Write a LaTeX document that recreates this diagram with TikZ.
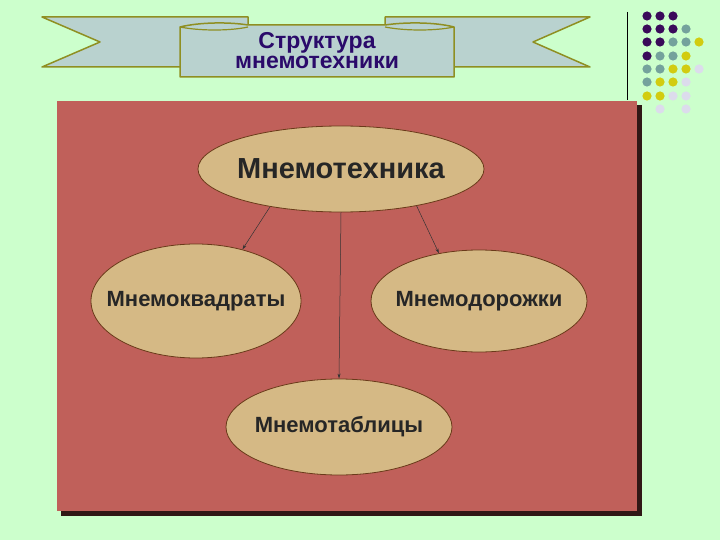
\documentclass[tikz,border=0pt]{standalone}
\usepackage{fontspec}
\setmainfont{Liberation Sans}
\usetikzlibrary{arrows.meta,shapes.geometric}
\definecolor{bg}{HTML}{CCFFCC}
\definecolor{board}{HTML}{C0605A}
\definecolor{ell}{HTML}{D5B985}
\definecolor{ellline}{HTML}{6A3A1A}
\definecolor{rib}{HTML}{B9D2CF}
\definecolor{ribline}{HTML}{8F8F22}
\definecolor{ttl}{HTML}{2A0A6A}
\definecolor{dP}{HTML}{3A0A5A}
\definecolor{dT}{HTML}{74A29C}
\definecolor{dY}{HTML}{D2CC10}
\definecolor{dL}{HTML}{DCDCEC}
\tikzset{
 oval/.style={ellipse, draw=ellline, fill=ell, line width=0.8pt, inner sep=0pt},
 lbl/.style={text=black!85, inner sep=0pt},
 ttlstyle/.style={text=ttl, inner sep=0pt, font=\fontsize{23}{23}\selectfont\bfseries},
 conn/.style={draw=black!80, line width=0.5pt, -{Stealth[length=5pt,width=3pt]}},
 ribbon/.style={fill=rib, draw=ribline, line width=1.5pt, line join=round}
}
\begin{document}
\begin{tikzpicture}[x=1pt,y=-1pt]
\fill[bg] (0,0) rectangle (720,540);
\useasboundingbox (0,0) rectangle (720,540);
% ribbon
\draw[ribbon] (42,17) -- (248,17) -- (248,62) -- (180,67) -- (42,67) -- (100,42) -- cycle;
\draw[ribbon] (590,17) -- (385,17) -- (385,62) -- (454,67) -- (590,67) -- (533,42) -- cycle;
\draw[ribbon] (180,27) .. controls (200,22) and (230,22) .. (248,25) -- (385,25) .. controls (405,22) and (435,22) .. (454,27) -- (454,77) -- (180,77) -- cycle;
\draw[ribline, line width=1.2pt] (180,27) .. controls (200,31) and (230,31) .. (248,27);
\draw[ribline, line width=1.2pt] (385,27) .. controls (405,31) and (435,31) .. (454,27);
\node[ttlstyle, anchor=base] (title1) at (317,49) {Структура};
\node[ttlstyle, anchor=base] (title2) at (317,69) {мнемотехники};
% dots
\draw[black, line width=1pt] (627,12) -- (627,100);
\foreach \c/\x/\y in {dP/647/16,dP/660/16,dP/673/16,
 dP/647/29,dP/660/29,dP/673/29,dT/686/29,
 dP/647/42,dP/660/42,dT/673/42,dT/686/42,dY/699/42,
 dP/647/56,dT/660/56,dT/673/56,dY/686/56,
 dT/647/69,dT/660/69,dY/673/69,dY/686/69,dL/699/69,
 dT/647/82,dY/660/82,dY/673/82,dL/686/82,
 dY/647/96,dY/660/96,dL/673/96,dL/686/96,
 dL/660/109,dL/686/109}
 \fill[\c] (\x,\y) circle (4.6);
% board with shadow
\fill[black!75!board] (61,105) rectangle (642,516);
\fill[board] (57,101) rectangle (637,511);
% nodes
\node[oval, minimum width=286, minimum height=86] (m) at (341,169) {};
\node[oval, minimum width=210, minimum height=114] (k) at (196,301) {};
\node[oval, minimum width=216, minimum height=102] (d) at (479,301) {};
\node[oval, minimum width=226, minimum height=96] (t) at (339,427) {};
\node[lbl] (ml) at (m) {\fontsize{29}{29}\selectfont\bfseries Мнемотехника};
\node[lbl] (kl) at (k) {\fontsize{22}{22}\selectfont\bfseries Мнемоквадраты};
\node[lbl] (dl) at (d) {\fontsize{22}{22}\selectfont\bfseries Мнемодорожки};
\node[lbl] (tl) at (t) {\fontsize{22}{22}\selectfont\bfseries Мнемотаблицы};
\draw[conn] (m.208) -- (k.48);
\draw[conn] (m.south) -- (t.north);
\draw[conn] (m.334) -- (d.130);
\end{tikzpicture}
\end{document}
